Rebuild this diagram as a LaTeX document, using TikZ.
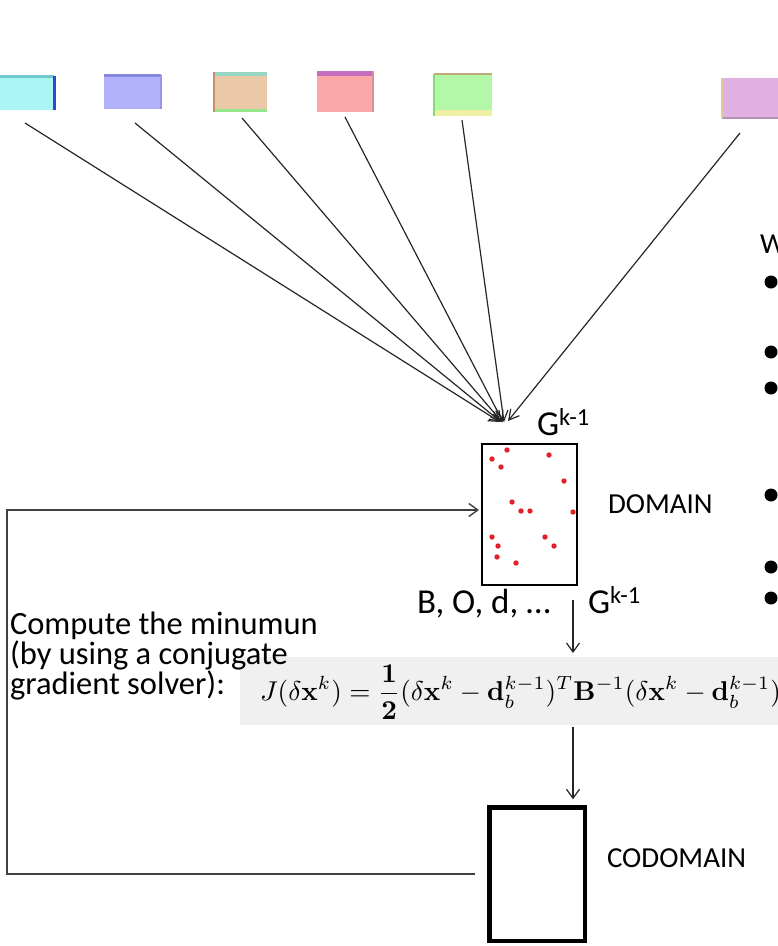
\documentclass[tikz,border=0pt]{standalone}
\usepackage{amsmath}
\usepackage[no-math]{fontspec}
\setmainfont{Carlito}
\usetikzlibrary{arrows.meta}

\definecolor{dotred}{HTML}{E3202A}
\definecolor{panelgrey}{HTML}{F0F0F0}
% tile fills and edge tints
\definecolor{cyanfill}{HTML}{AAF5F5}
\definecolor{cyanedge}{HTML}{6EC8CD}
\definecolor{blueedge}{HTML}{3246D2}
\definecolor{lavfill}{HTML}{B2B2FA}
\definecolor{lavedge}{HTML}{8787DC}
\definecolor{lavside}{HTML}{9696EB}
\definecolor{tanfill}{HTML}{EBC8A8}
\definecolor{tealband}{HTML}{96D7C3}
\definecolor{greenband}{HTML}{96E68C}
\definecolor{brownedge}{HTML}{C88C6E}
\definecolor{salfill}{HTML}{FAA8A8}
\definecolor{plumband}{HTML}{C36EBE}
\definecolor{rosedge}{HTML}{DC8C96}
\definecolor{mintfill}{HTML}{B2F8A8}
\definecolor{yellband}{HTML}{F0F0A5}
\definecolor{oliveedge}{HTML}{BEAA78}
\definecolor{leafedge}{HTML}{82DC78}
\definecolor{orchfill}{HTML}{E1B2E1}
\definecolor{orchedge}{HTML}{B491B4}
\definecolor{sandedge}{HTML}{E1C8A0}

\begin{document}
\begin{tikzpicture}[x=1pt,y=-1pt,
  every node/.style={inner sep=0pt, outer sep=0pt},
  tile/.style={minimum width=#1, minimum height=34pt},
  feed/.style={draw=black!75, line width=1.4pt, -{Straight Barb[length=9pt,width=13pt]}},
  flow/.style={draw=black!85, line width=1.2pt, -{Straight Barb[length=9pt,width=13pt]}},
  ray/.style={draw=black!85, line width=1.2pt, -{Straight Barb[length=10pt,width=11pt]}},
  lab/.style={font=\fontsize{29}{34}\selectfont},
  biglab/.style={font=\fontsize{35}{40}\selectfont},
  dot/.style={fill=dotred}]
\useasboundingbox (0,0) rectangle (778,946);

% --- coloured tiles along the top ---
\node[tile=60pt, fill=cyanfill] (s1) at (24,93) {};
\draw[line width=3pt, cyanedge] (s1.north west) -- (s1.north east);
\draw[line width=3pt, blueedge] (s1.north east) -- (s1.south east);

\node[tile=57pt, fill=lavfill] (s2) at (132,92) {};
\draw[line width=3pt, lavedge] (s2.north west) -- (s2.north east);
\draw[line width=2pt, lavside] (s2.north east) -- (s2.south east);

\node[tile=53pt, minimum height=40pt, fill=tanfill] (s3) at (240.5,92) {};
\draw[line width=4pt, tealband] ([yshift=-2pt]s3.north west) -- ([yshift=-2pt]s3.north east);
\draw[line width=3pt, greenband] ([yshift=1.5pt]s3.south west) -- ([yshift=1.5pt]s3.south east);
\draw[line width=2pt, brownedge] (s3.north west) -- (s3.south west);

\node[tile=56pt, minimum height=41pt, fill=salfill] (s4) at (345,91.5) {};
\draw[line width=5pt, plumband] ([yshift=-2.5pt]s4.north west) -- ([yshift=-2.5pt]s4.north east);
\draw[line width=1.5pt, rosedge] (s4.north east) -- (s4.south east);

\node[tile=58pt, minimum height=42pt, fill=mintfill] (s5) at (463,95) {};
\draw[line width=6pt, yellband] ([yshift=3pt]s5.south west) -- ([yshift=3pt]s5.south east);
\draw[line width=2pt, oliveedge] (s5.north west) -- (s5.north east);
\draw[line width=2pt, leafedge] (s5.north west) -- (s5.south west);

\node[tile=60pt, minimum height=40pt, fill=orchfill] (s6) at (752,98) {};
\draw[line width=2pt, orchedge] (s6.south west) -- (s6.south east);
\draw[line width=2pt, sandedge] (s6.north west) -- (s6.south west);

% --- rays converging on the domain ---
\coordinate (a1) at (25,123);
\coordinate (a2) at (135,123);
\coordinate (a3) at (242,118);
\coordinate (a4) at (345,117);
\coordinate (a5) at (462,120);
\coordinate (a6) at (740,133);
\coordinate (hub) at (502,422);
\coordinate (hubr) at (508,421);
\draw[ray] (a1) -- ([xshift=-2pt]hub);
\draw[ray] (a2) -- ([xshift=-1pt]hub);
\draw[ray] (a3) -- (hub);
\draw[ray] (a4) -- ([xshift=1pt]hub);
\draw[ray] (a5) -- ([xshift=2pt]hub);
\draw[ray] (a6) -- (hubr);
\node[biglab, anchor=base west] (gtop) at (537,435) {G\textsuperscript{k-1}};

% --- domain with sample points ---
\node[draw, line width=2pt, minimum width=95pt, minimum height=141pt] (dom) at (529.5,514.5) {};
\foreach \px/\py in {507/450, 492/459, 549/455, 501/467, 564/481, 512/502, 521/511,
                     530/511, 573/512, 492/537, 545/537, 498/546, 554/546, 497/557, 516/563}
  \fill[dot] (\px,\py) circle (2.7);
\node[lab, anchor=base west] (domlab) at (608,513) {DOMAIN};
\node[biglab, anchor=base west] (bod) at (417,613) {B, O, d, …};
\node[biglab, anchor=base west] (gbot) at (588,613) {G\textsuperscript{k-1}};

% --- cost functional ---
\node[fill=panelgrey, minimum width=560pt, minimum height=68pt] (fbox) at (520,691) {};
\begin{scope}[shift={(260,692)}, scale=2.72, transform shape]
  \node[anchor=west] (cost) at (0,0)
    {$\displaystyle J(\delta\mathbf{x}^k)=\frac{\mathbf{1}}{\mathbf{2}}(\delta\mathbf{x}^k-\mathbf{d}_b^{k-1})^T\mathbf{B}^{-1}(\delta\mathbf{x}^k-\mathbf{d}_b^{k-1})$};
\end{scope}
\node[font=\fontsize{32.5}{30}\selectfont, align=left, anchor=north west] (note) at (10,612)
  {Compute the minumun\\(by using a conjugate\\gradient solver):};

% --- codomain ---
\node[draw, line width=4.5pt, minimum width=95.5pt, minimum height=133.5pt] (cod) at (537,874) {};
\node[lab, anchor=base west] (codlab) at (607,867) {CODOMAIN};

% --- vertical flow ---
\coordinate (dsrc) at (573,600);
\draw[flow, shorten >=4pt] (dsrc) -- (dsrc |- fbox.north);
\draw[flow, shorten >=8pt] ([yshift=-2pt]fbox.south -| dsrc) -- (cod.north -| dsrc);

% --- feedback loop ---
\coordinate (fbx) at (7,0);
\coordinate (domin) at ([yshift=4.5pt]dom.west);
\draw[feed, shorten >=3pt] ([xshift=-14pt]cod.west) -- (cod.west -| fbx) -- (domin -| fbx) -- (domin);

% --- bullet column on the right ---
\node[lab, anchor=base west] (wtxt) at (760,253) {W};
\foreach \by in {282, 352, 388, 495, 567, 598}
  \fill (771,\by) circle (6.5);
\end{tikzpicture}
\end{document}
